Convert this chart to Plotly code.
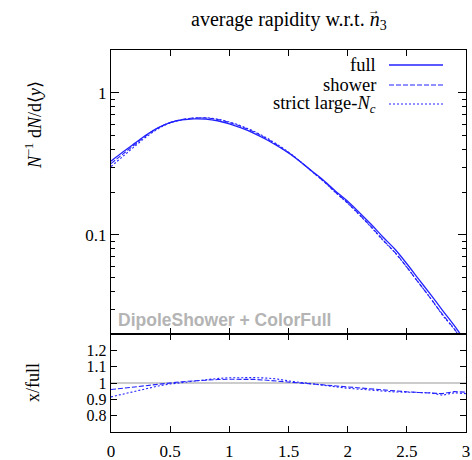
import plotly.graph_objects as go

# ---- data ----
x_vals = [0.0, 0.1, 0.2, 0.3, 0.4, 0.5, 0.6, 0.7, 0.8, 0.9, 1.0,
          1.1, 1.2, 1.3, 1.4, 1.5, 1.6, 1.7, 1.8, 1.9, 2.0,
          2.1, 2.2, 2.3, 2.4, 2.5, 2.6, 2.7, 2.8, 2.9, 3.0]
full = [0.33, 0.382, 0.44, 0.506, 0.568, 0.617, 0.643, 0.655, 0.652, 0.635, 0.603,
        0.565, 0.522, 0.474, 0.425, 0.377, 0.327, 0.28, 0.24, 0.202, 0.172,
        0.143, 0.118, 0.096, 0.079, 0.0625, 0.0487, 0.038, 0.0295, 0.023, 0.0175]
shower_ratio = [0.96, 0.968, 0.978, 0.988, 0.996, 1.002, 1.008, 1.013, 1.018, 1.021, 1.023,
                1.024, 1.022, 1.018, 1.012, 1.005, 1.0, 0.994, 0.988, 0.982, 0.975,
                0.968, 0.962, 0.955, 0.95, 0.946, 0.942, 0.94, 0.935, 0.947, 0.944]
strict_ratio = [0.915, 0.932, 0.952, 0.968, 0.982, 0.994, 1.003, 1.012, 1.022, 1.028, 1.032,
                1.034, 1.033, 1.031, 1.025, 1.013, 1.003, 0.993, 0.985, 0.977, 0.968,
                0.962, 0.955, 0.948, 0.945, 0.944, 0.943, 0.94, 0.925, 0.94, 0.935]
shower = [f * r for f, r in zip(full, shower_ratio)]
strict = [f * r for f, r in zip(full, strict_ratio)]

series_names = ["full", "shower", "strict large-<i>N</i><sub><i>c</i></sub>"]
x_ticks = [0, 0.5, 1, 1.5, 2, 2.5, 3]
x_ticktext = ["0", "0.5", "1", "1.5", "2", "2.5", "3"]
main_ticks = [0.1, 1]
main_ticktext = ["0.1", "1"]
main_minor = [0.02, 0.03, 0.04, 0.05, 0.06, 0.07, 0.08, 0.09,
              0.2, 0.3, 0.4, 0.5, 0.6, 0.7, 0.8, 0.9, 2]
ratio_ticks = [0.8, 0.9, 1.0, 1.1, 1.2]
ratio_ticktext = ["0.8", "0.9", "1", "1.1", "1.2"]

BLUE = "#2222ff"
SERIF = "Liberation Serif"
FS = 18
dashes = ["solid", "5px,2px", "2px,2px"]
widths = [1.3, 1.1, 1.1]

W, H = 472, 460
L, R, T, B = 111, 6, 50, 28
PW, PH = W - L - R, H - T - B


def px(xp):
    return (xp - L) / PW


def py(yp):
    return (H - B - yp) / PH


fig = go.Figure()
for ys, d, w in zip([full, shower, strict], dashes, widths):
    fig.add_trace(go.Scatter(x=x_vals, y=ys, mode="lines", xaxis="x", yaxis="y",
                             line=dict(color=BLUE, width=w, dash=d, shape="spline"),
                             showlegend=False, hoverinfo="skip"))
for ys, d, w in zip([shower_ratio, strict_ratio], dashes[1:], widths[1:]):
    fig.add_trace(go.Scatter(x=x_vals, y=ys, mode="lines", xaxis="x2", yaxis="y2",
                             line=dict(color=BLUE, width=w, dash=d), showlegend=False,
                             hoverinfo="skip"))

split = 98 / PH
axis_common = dict(showline=True, linecolor="black", linewidth=1.2, mirror="ticks",
                   ticks="inside", tickcolor="black", showgrid=False, zeroline=False,
                   automargin=False)

fig.update_layout(
    width=W, height=H,
    margin=dict(l=L, r=R, t=T, b=B, autoexpand=False),
    paper_bgcolor="white", plot_bgcolor="white",
    font=dict(family=SERIF, size=FS, color="black"),
    xaxis=dict(domain=[0, 1], anchor="y", range=[0, 3], tickvals=x_ticks,
               showticklabels=False, ticklen=6, **axis_common),
    yaxis=dict(domain=[split, 1], anchor="x", type="log", range=[-1.69897, 0.30103],
               tickvals=main_ticks, ticktext=main_ticktext, ticklen=8,
               tickfont=dict(family=SERIF, size=17, color="black"),
               minor=dict(tickmode="array", tickvals=main_minor, ticks="inside",
                          ticklen=4, tickcolor="black", showgrid=False),
               **axis_common),
    xaxis2=dict(domain=[0, 1], anchor="y2", range=[0, 3], tickvals=x_ticks,
                ticktext=x_ticktext, ticklen=6, ticklabelstandoff=3,
                tickfont=dict(family=SERIF, size=17, color="black"), **axis_common),
    yaxis2=dict(domain=[0, split], anchor="x2", range=[0.7, 1.3],
                tickvals=ratio_ticks, ticktext=ratio_ticktext, ticklen=6,
                tickfont=dict(family=SERIF, size=16, color="black"), **axis_common),
)

# title (n with vector arrow drawn as a separate small arrow above it)
fig.add_annotation(text="average rapidity w.r.t. <i>n</i><sub>3</sub>", xref="paper", yref="paper",
                   x=px(389), y=py(20), xanchor="right", yanchor="middle", showarrow=False,
                   font=dict(family=SERIF, size=20, color="black"))
fig.add_annotation(text="→", xref="paper", yref="paper", x=px(374), y=py(10),
                   xanchor="center", yanchor="middle", showarrow=False,
                   font=dict(family=SERIF, size=12, color="black"))

# unity reference line in the ratio panel
fig.add_shape(type="line", xref="x2 domain", yref="y2", x0=0, x1=1, y0=1, y1=1,
              line=dict(color="#9a9a9a", width=1.2), layer="below")

# legend (text on the left, sample line on the right)
leg_y = [65, 85, 104]
for name, d, w, yy in zip(series_names, dashes, widths, leg_y):
    fig.add_annotation(text=name, xref="paper", yref="paper", x=px(378), y=py(yy),
                       xanchor="right", yanchor="middle", showarrow=False,
                       font=dict(family=SERIF, size=18.5, color="black"))
    fig.add_shape(type="line", xref="paper", yref="paper", x0=px(389), x1=px(443),
                  y0=py(yy), y1=py(yy), line=dict(color=BLUE, width=w, dash=d))

# watermark
fig.add_annotation(text="<b>DipoleShower + ColorFull</b>", xref="paper", yref="paper",
                   x=px(116), y=py(320), xanchor="left", yanchor="middle", showarrow=False,
                   font=dict(family="Liberation Sans", size=17.5, color="#b4b4b4"))

# axis titles
fig.add_annotation(text="<i>N</i><sup>−1</sup> d<i>N</i>/d⟨<i>y</i>⟩", xref="paper", yref="paper",
                   x=px(33), y=py(125), textangle=-90, showarrow=False,
                   xanchor="center", yanchor="middle",
                   font=dict(family=SERIF, size=FS, color="black"))
fig.add_annotation(text="x/full", xref="paper", yref="paper",
                   x=px(33), y=py(383), textangle=-90, showarrow=False,
                   xanchor="center", yanchor="middle",
                   font=dict(family=SERIF, size=FS, color="black"))

fig.write_html("out.html", config={"displayModeBar": False, "staticPlot": True},
               post_script="document.body.style.margin='0';document.body.style.overflow='hidden';")
